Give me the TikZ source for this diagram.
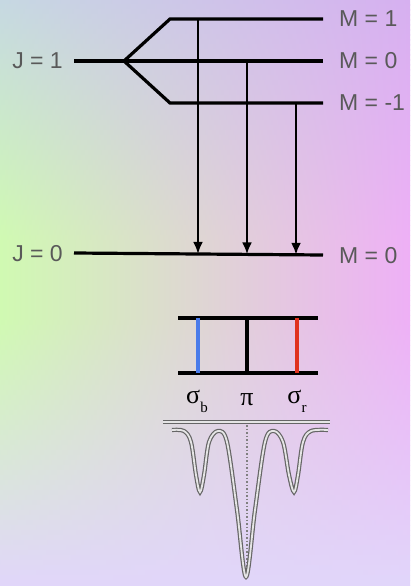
\documentclass[tikz,border=0pt]{standalone}
\usepackage{fontspec}
\setmainfont{Liberation Sans}
\newfontfamily\grkfont{Liberation Serif}
\usetikzlibrary{arrows.meta}
\definecolor{bgtl}{HTML}{C6D8E2}
\definecolor{bgml}{HTML}{D0FAB2}
\definecolor{bgtr}{HTML}{D6B0F0}
\definecolor{bgmr}{HTML}{EEB0F6}
\definecolor{bgbot}{HTML}{E1D6FA}
\definecolor{sigb}{HTML}{4A7BEA}
\definecolor{sigr}{HTML}{E0321E}
\tikzset{
  level/.style={line width=3.2pt},
  trans/.style={line width=2.8pt,-{Latex[length=12pt,width=10pt]}},
  lbl/.style={text=black!65,font=\fontsize{23}{26}\selectfont,inner sep=0pt},
  grk/.style={font=\grkfont\fontsize{26}{28}\selectfont,inner sep=0pt},
  spec/.style={draw=black!60,double=black!10,line width=1.2pt,double distance=1.8pt}
}
\begin{document}
\begin{tikzpicture}[x=1pt,y=-1pt]
\useasboundingbox (0,0) rectangle (410,586);
% background, one horizontal shade per row
\foreach \r in {0,...,117} {
  \pgfmathsetmacro{\yy}{\r*5+2.5}
  \ifdim \yy pt < 240pt
    \pgfmathsetmacro{\p}{100*(1-\yy/240)}
    \colorlet{rowl}{bgtl!\p!bgml}
    \colorlet{rowr}{bgtr!\p!bgmr}
  \else
    \ifdim \yy pt < 320pt
      \colorlet{rowl}{bgml}
      \colorlet{rowr}{bgmr}
    \else
      \pgfmathsetmacro{\p}{100*(1-(\yy-320)/266)}
      \colorlet{rowl}{bgml!\p!bgbot}
      \colorlet{rowr}{bgmr!\p!bgbot}
    \fi
  \fi
  \colorlet{rowm}{rowl!56!rowr}
  \shade[left color=rowl,middle color=rowm,right color=rowr] (0,\r*5) rectangle (410,\r*5+5.6);
}
% J = 1 and its split levels
\coordinate (split) at (124,61);
\draw[level] (74,61) -- (split);
\draw[level] (split) -- (170,19) -- (323,19) coordinate (m1);
\draw[level] (split) -- (323,61) coordinate (m0);
\draw[level] (split) -- (170,103) -- (323,103) coordinate (mm1);
\draw[level] (74,253) coordinate (g0) -- (323,255) coordinate (g1);
\node[lbl,anchor=east] (j1) at (63,61) {J = 1};
\node[lbl,anchor=east] (j0) at (63,254) {J = 0};
\node[lbl,anchor=west] (lm1) at (339,19) {M = 1};
\node[lbl,anchor=west] (lm0) at (339,61) {M = 0};
\node[lbl,anchor=west] (lmm1) at (339,103) {M = -1};
\node[lbl,anchor=west] (lg0) at (339,256) {M = 0};
% transitions
\foreach \x/\y/\n in {198/19/a, 247/61/b, 296/103/c} {
  \coordinate (top\n) at (\x,\y);
  \coordinate (bot\n) at (\x,{253+2*(\x-74)/249});
  \draw[trans] (top\n) -- (bot\n);
}
% pattern of lines
\draw[level] (178,318) -- (318,318);
\draw[level] (178,373) -- (318,373);
\draw[line width=3.6pt,sigb] (198,318) -- (198,373);
\draw[line width=3.6pt,black] (247,318) -- (247,373);
\draw[line width=3.6pt,sigr] (297,318) -- (297,373);
\node[grk] (sb) at (197,401) {σ\raisebox{-0.35em}{\fontsize{15}{15}\selectfont b}};
\node[grk] (pi) at (247,400) {π};
\node[grk] (sr) at (297,401) {σ\raisebox{-0.35em}{\fontsize{15}{15}\selectfont r}};
% spectrum
\draw[spec] (163,422) -- (330,422);
\draw[black!50,line width=1.5pt,dotted] (247,425) -- (247,574);
\draw[spec] plot[smooth,tension=0.55] coordinates {(172,430) (184,431) (191,442) (196,475) (200,492) (204,475) (209,442) (218,431) (227,442) (237,510) (246,577) (255,510) (265,442) (274,431) (283,442) (289,475) (294,492) (298,475) (303,442) (311,431) (328,430)};
\end{tikzpicture}
\end{document}
